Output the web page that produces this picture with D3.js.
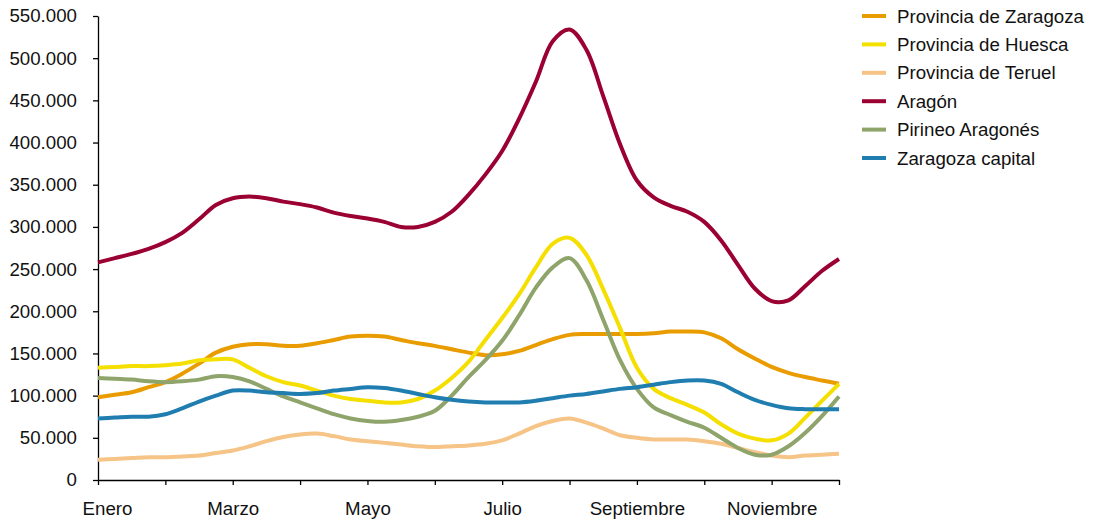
<!DOCTYPE html>
<html>
<head>
<meta charset="utf-8">
<script src="https://cdn.jsdelivr.net/npm/d3@7"></script>
<style>
  body { margin: 0; background: #fff; }
  text { font-family: "Liberation Sans", Arial, sans-serif; }
</style>
</head>
<body>
<div id="viz"></div>
<script>
// month labels (only odd months are written on the axis)
const months = ["Enero", "Febrero", "Marzo", "Abril", "Mayo", "Junio",
  "Julio", "Agosto", "Septiembre", "Octubre", "Noviembre", "Diciembre"];
const shownMonths = ["Enero", "Marzo", "Mayo", "Julio", "Septiembre", "Noviembre"];

// values in thousands, one every quarter month (Jan 1 .. Dec 1)
const zaragozaProv = [98,101,104,110,116,126,138,151,158,161,161,159,159,162,166,170,171,170,166,162,
  159,155,151,148,149,153,160,167,172,173,173,173,173,174,176,176,175,168,155,144,134,127,122,118,114];
const huesca = [133,134,135,135,136,138,142,143,143,133,123,116,112,106,100,96,94,92,92,96,
  106,121,140,166,192,220,252,280,287,267,226,180,133,108,97,89,80,66,55,49,47,55,74,94,114];
const teruel = [24,25,26,27,27,28,29,32,35,40,46,51,54,55,52,48,46,44,42,40,
  39,40,41,43,47,55,64,70,73,68,61,53,50,48,48,48,46,43,38,33,29,27,29,30,31];
const aragon = [258,263,268,274,282,293,309,326,334,336,334,330,327,323,317,313,310,306,300,300,
  306,318,338,362,390,428,472,520,534,510,455,398,355,335,325,318,306,284,255,227,212,213,230,248,262];
const pirineo = [121,120,119,117,116,117,119,123,122,117,108,99,92,85,78,73,70,69,71,75,
  82,100,122,142,165,195,228,252,263,237,190,142,108,86,77,69,62,50,38,30,30,40,56,76,99];
const zaragozaCap = [73,74,75,75,78,85,93,100,106,106,104,103,102,103,106,108,110,109,106,102,
  98,95,93,92,92,92,94,97,100,102,105,108,110,113,116,118,118,114,104,95,89,85,84,84,84];

const seriesNames = ["Provincia de Zaragoza", "Provincia de Huesca", "Provincia de Teruel",
  "Aragón", "Pirineo Aragonés", "Zaragoza capital"];
const seriesValues = [zaragozaProv, huesca, teruel, aragon, pirineo, zaragozaCap];
const seriesColors = ["#E99C00", "#F5DF00", "#F5C486", "#9B0033", "#8EA46A", "#1F7DB0"];

const yTicks = d3.range(0, 550001, 50000);

const width = 1096, height = 521;
const fontSize = "18.7px";
const svg = d3.select("#viz").append("svg")
  .attr("width", width)
  .attr("height", height);

const x = d3.scaleLinear().domain([0, 11]).range([98, 839]);
const y = d3.scaleLinear().domain([0, 550000]).range([480, 16]);

// y axis
const yAxis = svg.append("g")
  .attr("transform", "translate(98,0)")
  .call(d3.axisLeft(y)
    .tickValues(yTicks)
    .tickSize(5)
    .tickSizeOuter(0)
    .tickPadding(16)
    .tickFormat(d => d3.format(",")(d).replace(/,/g, ".")));

// x axis
const xAxis = svg.append("g")
  .attr("transform", "translate(0,480)")
  .call(d3.axisBottom(x)
    .tickValues(d3.range(0, 12))
    .tickSize(5)
    .tickSizeOuter(0)
    .tickPadding(17)
    .tickFormat(i => shownMonths.includes(months[i]) ? months[i] : ""));

[yAxis, xAxis].forEach(ax => {
  ax.select(".domain").attr("stroke", "#000").attr("stroke-width", 1.3);
  ax.selectAll(".tick line").attr("stroke", "#000").attr("stroke-width", 1.3);
  ax.selectAll(".tick text")
    .attr("fill", "#111")
    .style("font-size", fontSize)
    .style("font-family", "'Liberation Sans', Arial, sans-serif");
});
// first label sits a bit to the right like the original
xAxis.selectAll(".tick text").filter(d => d === 0).attr("dx", 9);

const line = d3.line()
  .x((d, i) => x(i / 4))
  .y(d => y(d * 1000))
  .curve(d3.curveCatmullRom.alpha(0.5));

seriesValues.forEach((vals, k) => {
  svg.append("path")
    .datum(vals)
    .attr("d", line)
    .attr("fill", "none")
    .attr("stroke", seriesColors[k])
    .attr("stroke-width", 4)
    .attr("stroke-linejoin", "round");
});

// legend
const legend = svg.append("g").attr("transform", "translate(862,16)");
seriesNames.forEach((name, k) => {
  const g = legend.append("g").attr("transform", `translate(0,${k * 28.4})`);
  g.append("line")
    .attr("x1", 0).attr("x2", 24)
    .attr("y1", 0).attr("y2", 0)
    .attr("stroke", seriesColors[k])
    .attr("stroke-width", 4);
  g.append("text")
    .attr("x", 35)
    .attr("y", 6.5)
    .attr("fill", "#111")
    .style("font-size", fontSize)
    .text(name);
});
</script>
</body>
</html>
